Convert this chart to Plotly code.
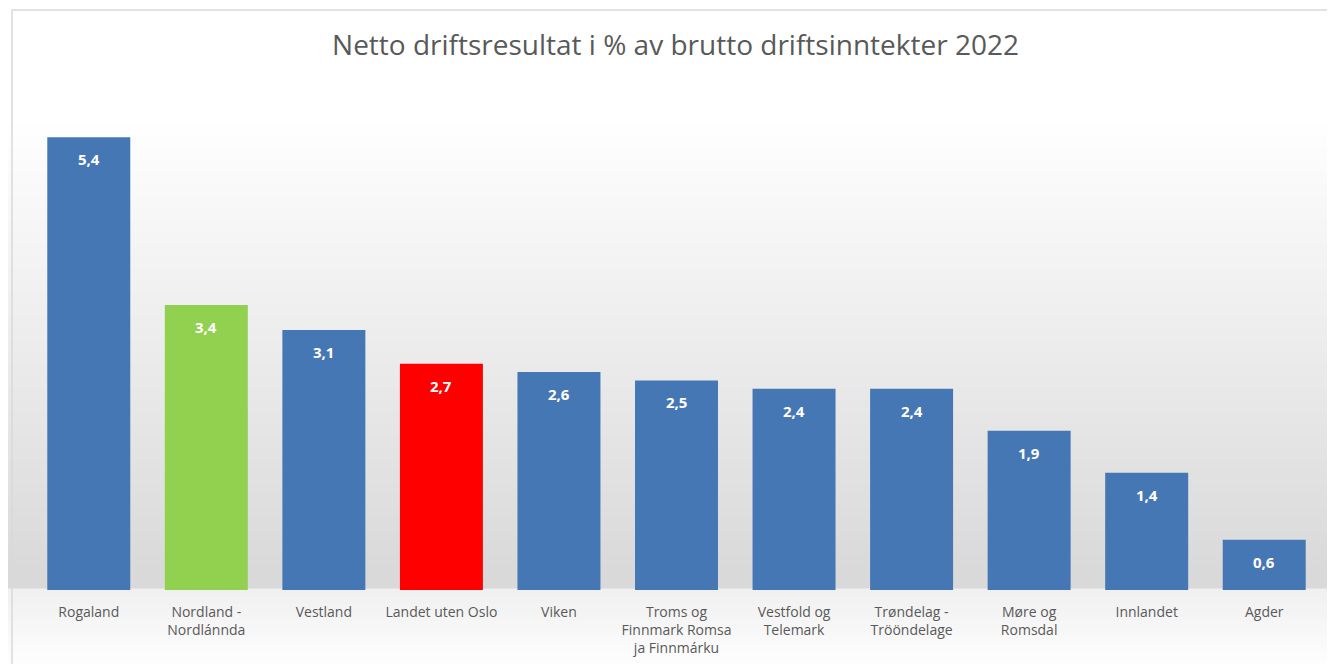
import plotly.graph_objects as go

categories = ["Rogaland", "Nordland -<br>Nordlánnda", "Vestland", "Landet uten Oslo", "Viken",
              "Troms og<br>Finnmark Romsa<br>ja Finnmárku", "Vestfold og<br>Telemark",
              "Trøndelag -<br>Trööndelage", "Møre og<br>Romsdal", "Innlandet", "Agder"]
values = [5.4, 3.4, 3.1, 2.7, 2.6, 2.5, 2.4, 2.4, 1.9, 1.4, 0.6]
bar_colors = ["#4677b5", "#92d050", "#4677b5", "#ff0000", "#4677b5", "#4677b5",
              "#4677b5", "#4677b5", "#4677b5", "#4677b5", "#4677b5"]
value_labels = [f"{v:.1f}".replace(".", ",") for v in values]

fig = go.Figure()
fig.add_trace(go.Bar(
    x=categories, y=values,
    marker=dict(color=bar_colors, line=dict(width=0)),
    hoverinfo="x+y",
))

annotations = [dict(x=c, y=v, xref="x", yref="y", text=t, showarrow=False,
                    yanchor="top", yshift=-10,
                    font=dict(family="Open Sans", size=15, color="white", weight="bold"))
               for c, v, t in zip(categories, values, value_labels)]

shapes = []
# plot-area gradient (gray at baseline -> white at top)
n = 40
top = 0.95
for i in range(n):
    y0 = top * i / n
    y1 = top * (i + 1) / n + 0.004
    t = i / (n - 1)
    g = int(217 + (255 - 217) * t)
    shapes.append(dict(type="rect", xref="paper", yref="paper", x0=-0.03, x1=1.02, y0=y0, y1=y1,
                       fillcolor=f"rgb({g},{g},{g})", line=dict(width=0), layer="below"))
# floor below baseline
m = 15
for i in range(m):
    y0 = -0.16 * i / m + 0.003
    y1 = -0.16 * (i + 1) / m
    t = i / (m - 1)
    g = int(240 + (255 - 240) * t)
    shapes.append(dict(type="rect", xref="paper", yref="paper", x0=-0.03, x1=1.02, y0=y1, y1=y0,
                       fillcolor=f"rgb({g},{g},{g})", line=dict(width=0), layer="below"))
# border
shapes.append(dict(type="rect", xref="paper", yref="paper", x0=-0.0139, x1=1.0085, y0=-0.3, y1=1.153,
                   fillcolor="rgba(0,0,0,0)", line=dict(width=1.5, color="#d9d9d9"), layer="above"))

fig.update_layout(
    width=1335, height=664,
    margin=dict(l=22, r=20, t=79, b=82),
    paper_bgcolor="white", plot_bgcolor="rgba(0,0,0,0)",
    bargap=0.294,
    showlegend=False,
    shapes=shapes,
    annotations=annotations,
    title=dict(text="Netto driftsresultat i % av brutto driftsinntekter 2022",
               x=0.5, xanchor="center", y=0.944, yanchor="middle",
               font=dict(family="Open Sans", size=28, color="#595959")),
    xaxis=dict(showgrid=False, showline=False, zeroline=False, ticks="",
               ticklabelstandoff=12,
               tickfont=dict(family="Open Sans", size=14, color="#595959")),
    yaxis=dict(range=[0, 6], visible=False),
)

fig.write_html("out.html")
